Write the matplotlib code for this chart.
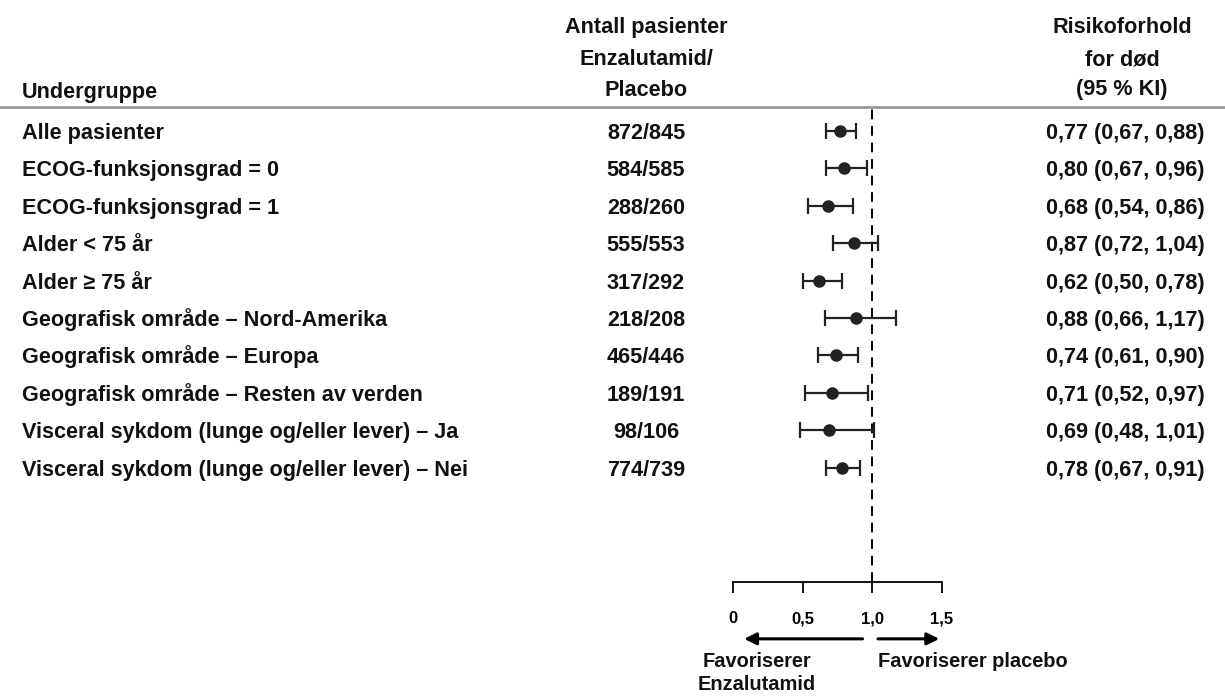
import numpy as np
import matplotlib
matplotlib.use("Agg")
import matplotlib.pyplot as plt

plt.rcParams['font.family'] = ['Liberation Sans Narrow', 'Liberation Sans', 'DejaVu Sans']
plt.rcParams['font.weight'] = 'bold'

subgroups = [
    "Alle pasienter",
    "ECOG-funksjonsgrad = 0",
    "ECOG-funksjonsgrad = 1",
    "Alder < 75 år",
    "Alder \u2265 75 år",
    "Geografisk område \u2013 Nord-Amerika",
    "Geografisk område \u2013 Europa",
    "Geografisk område \u2013 Resten av verden",
    "Visceral sykdom (lunge og/eller lever) \u2013 Ja",
    "Visceral sykdom (lunge og/eller lever) \u2013 Nei",
]
n_enza = [872, 584, 288, 555, 317, 218, 465, 189, 98, 774]
n_plac = [845, 585, 260, 553, 292, 208, 446, 191, 106, 739]
hr = np.array([0.77, 0.80, 0.68, 0.87, 0.62, 0.88, 0.74, 0.71, 0.69, 0.78])
lo = np.array([0.67, 0.67, 0.54, 0.72, 0.50, 0.66, 0.61, 0.52, 0.48, 0.67])
hi = np.array([0.88, 0.96, 0.86, 1.04, 0.78, 1.17, 0.90, 0.97, 1.01, 0.91])
xticks = [0, 0.5, 1.0, 1.5]
xticklabels = ["0", "0,5", "1,0", "1,5"]


def fmt(v):
    return ("%.2f" % v).replace(".", ",")


W, H = 1225, 696
fig = plt.figure(figsize=(W / 100, H / 100), dpi=100)

# background axes in pixel coordinates for the text columns
bg = fig.add_axes([0, 0, 1, 1])
bg.set_xlim(0, W)
bg.set_ylim(H, 0)
bg.axis("off")

fs = 15.6
half_cap = 8  # px, baseline offset from visual centre
row_y0, row_dy = 131, 37.4
txt_col = "#111111"

# header
bg.text(22, 90 + half_cap, "Undergruppe", ha="left", va="baseline", fontsize=fs, color=txt_col)
for txt, y in zip(["Antall pasienter", "Enzalutamid/", "Placebo"], [25, 57, 88]):
    bg.text(646, y + half_cap, txt, ha="center", va="baseline", fontsize=fs, color=txt_col)
for txt, y in zip(["Risikoforhold", "for død", "(95 % KI)"], [25, 57, 87]):
    bg.text(1122, y + half_cap, txt, ha="center", va="baseline", fontsize=fs, color=txt_col)
bg.plot([0, W], [107, 107], color="#999999", lw=2)

# rows
for i, name in enumerate(subgroups):
    y = row_y0 + row_dy * i + half_cap
    bg.text(22, y, name, ha="left", va="baseline", fontsize=fs, color=txt_col)
    bg.text(646, y, "%d/%d" % (n_enza[i], n_plac[i]), ha="center", va="baseline",
            fontsize=fs, color=txt_col)
    bg.text(1205, y, "%s (%s, %s)" % (fmt(hr[i]), fmt(lo[i]), fmt(hi[i])),
            ha="right", va="baseline", fontsize=fs, color=txt_col)

# forest plot axes
x0, x1 = 733, 942
y_top, y_bot = 108, 582
ax = fig.add_axes([x0 / W, 1 - y_bot / H, (x1 - x0) / W, (y_bot - y_top) / H])
ax.patch.set_alpha(0)
ax.set_xlim(0, 1.5)
ymax = (y_bot - row_y0) / row_dy
ax.set_ylim(ymax, (y_top - row_y0) / row_dy)
for s in ["top", "left", "right"]:
    ax.spines[s].set_visible(False)
ax.spines["bottom"].set_linewidth(1.3)
ax.set_yticks([])
ax.set_xticks(xticks)
ax.set_xticklabels(xticklabels, fontsize=12)
ax.tick_params(axis="x", direction="out", length=8, width=1.3, pad=13)

rows = np.arange(len(subgroups))
ax.axvline(1.0, color="black", lw=1.4, ls=(0, (5, 3.5)))
ax.errorbar(hr, rows, xerr=[hr - lo, hi - hr], fmt="o", color="#222222",
            ms=8, elinewidth=1.6, capsize=5.5, capthick=1.6)

# favour arrows
arr_y = ymax + 1.52
ax.annotate("", xy=(0.06, arr_y), xytext=(0.95, arr_y),
            xycoords="data", annotation_clip=False,
            arrowprops=dict(arrowstyle="-|>", color="black", lw=2.2, mutation_scale=18))
ax.annotate("", xy=(1.5, arr_y), xytext=(1.02, arr_y),
            xycoords="data", annotation_clip=False,
            arrowprops=dict(arrowstyle="-|>", color="black", lw=2.2, mutation_scale=18))
fs2 = 14.4
bg.text(757, 660 + 7, "Favoriserer", ha="center", va="baseline", fontsize=fs2, color=txt_col)
bg.text(757, 683 + 7, "Enzalutamid", ha="center", va="baseline", fontsize=fs2, color=txt_col)
bg.text(878, 660 + 7, "Favoriserer placebo", ha="left", va="baseline", fontsize=fs2, color=txt_col)

fig.savefig("out.png", dpi=100)
